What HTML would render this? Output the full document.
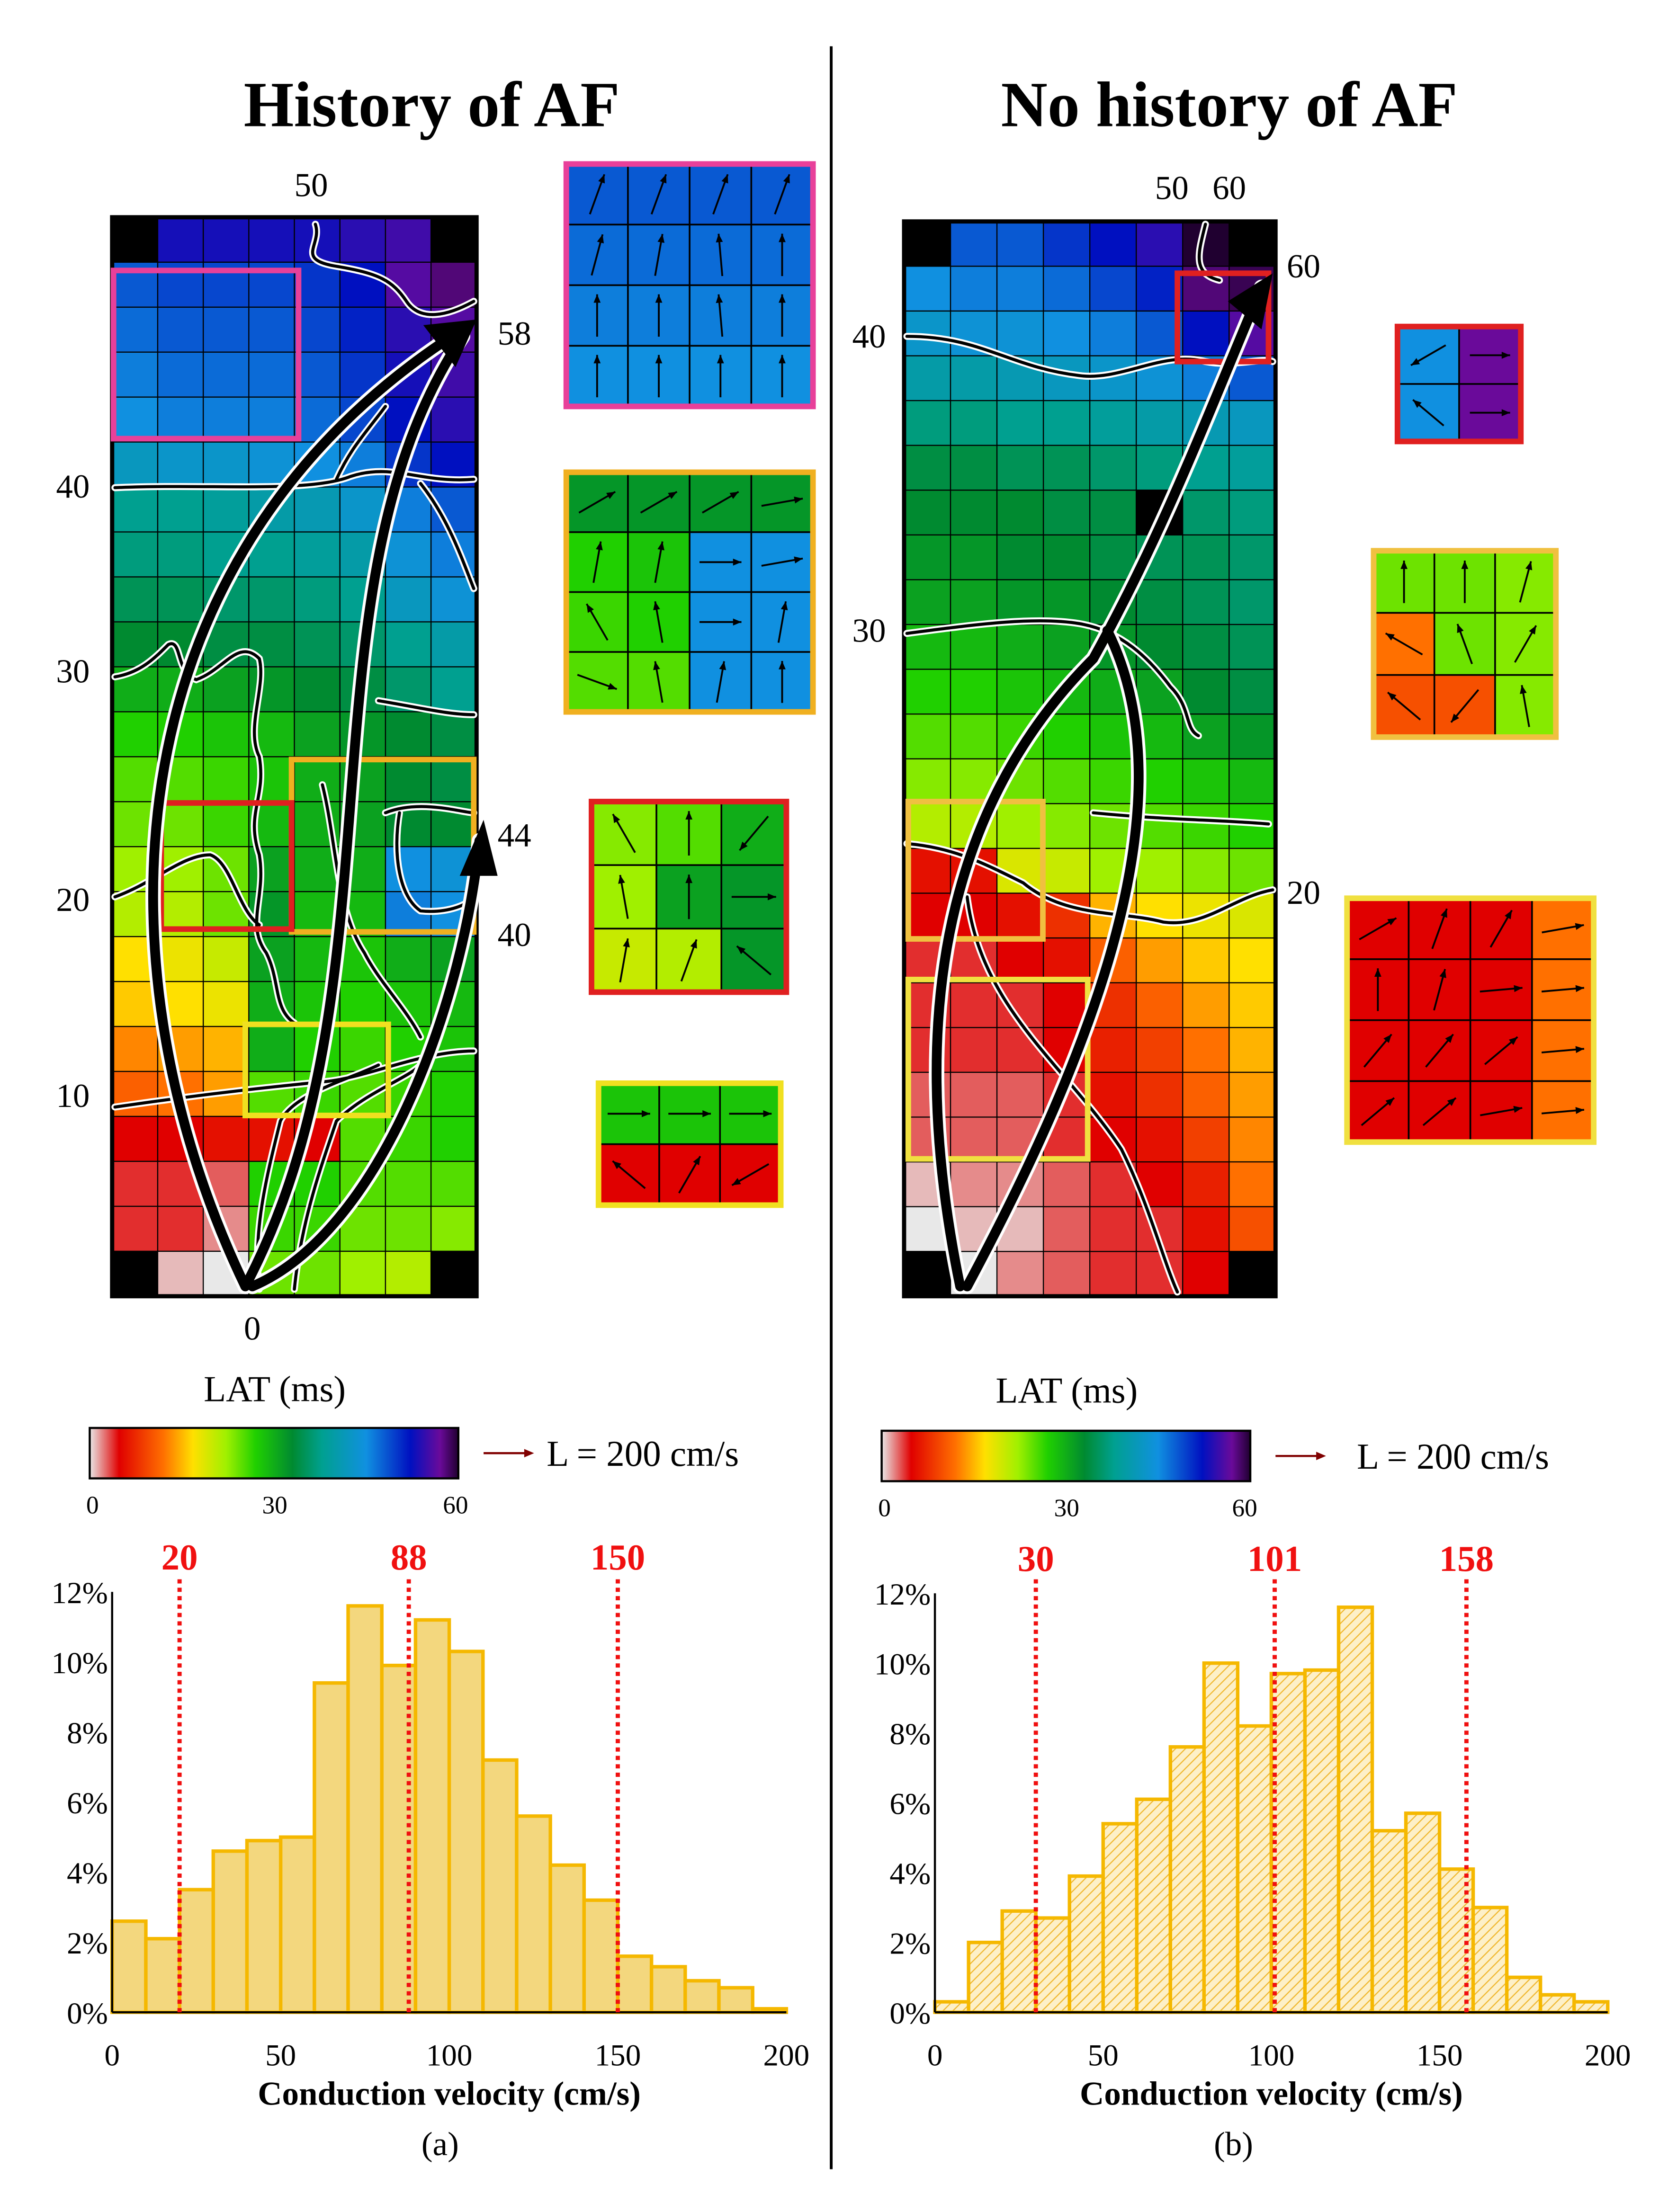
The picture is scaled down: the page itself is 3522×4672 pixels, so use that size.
<!DOCTYPE html>
<html><head><meta charset="utf-8"><style>
html,body{margin:0;padding:0;background:#fff}
svg{display:block}
text{font-family:"Liberation Serif",serif}
</style></head><body>
<svg id="fig" width="3522" height="4672" viewBox="0 0 1190 1578.5" xmlns="http://www.w3.org/2000/svg">
<defs>
<linearGradient id="cbar" x1="0" x2="1" y1="0" y2="0">
<stop offset="0" stop-color="#e8e8e8"/><stop offset="0.08" stop-color="#e00000"/><stop offset="0.2" stop-color="#ff7000"/><stop offset="0.28" stop-color="#ffe000"/><stop offset="0.37" stop-color="#a0f000"/><stop offset="0.45" stop-color="#20d000"/><stop offset="0.55" stop-color="#008a30"/><stop offset="0.63" stop-color="#00a090"/><stop offset="0.75" stop-color="#1090e0"/><stop offset="0.87" stop-color="#0010c0"/><stop offset="0.95" stop-color="#6a0a9a"/><stop offset="1" stop-color="#200030"/>
</linearGradient>
<pattern id="hatch" width="5" height="5" patternUnits="userSpaceOnUse" patternTransform="rotate(45)">
<rect width="5" height="5" fill="#fdf0c8"/><line x1="0" y1="0" x2="0" y2="5" stroke="#f0b830" stroke-width="1.6"/>
</pattern>
</defs>
<line x1="593" y1="33" x2="593" y2="1548" stroke="#000" stroke-width="2"/>
<text x="308" y="90" font-size="46" font-weight="bold" text-anchor="middle">History of AF</text>
<text x="877" y="90" font-size="46" font-weight="bold" text-anchor="middle">No history of AF</text>
<g id="mapL"></g>
<g id="mapR"></g>
<g id="over">
<!-- left contours -->
<g fill="none" stroke-linecap="round">
<path d="M82,348 C150,345 220,352 250,340 C280,330 300,345 338,342 M240,342 C250,320 260,310 275,290 M300,345 C320,370 330,400 338,420 M82,483 C100,480 110,470 120,460 C130,455 125,480 140,485 C160,478 170,455 185,470 C190,490 175,520 185,540 C190,570 175,580 185,610 C190,640 175,660 190,680 C200,700 195,720 210,730 M82,640 C110,630 130,610 150,610 C165,615 170,650 185,660 M82,790 C150,780 200,775 230,772 C260,770 300,750 338,750 M185,920 C180,880 190,840 200,800 C210,780 250,770 270,760 M210,920 C215,870 230,830 240,800 C260,780 290,770 300,760 M275,580 C300,570 330,580 338,580 M285,580 C280,610 285,640 300,650 C320,652 335,645 338,640 M270,500 C300,505 320,510 338,510 M230,560 C240,600 240,650 260,680 C270,700 290,720 300,740" stroke="#fff" stroke-width="5"/>
<path d="M82,348 C150,345 220,352 250,340 C280,330 300,345 338,342 M240,342 C250,320 260,310 275,290 M300,345 C320,370 330,400 338,420 M82,483 C100,480 110,470 120,460 C130,455 125,480 140,485 C160,478 170,455 185,470 C190,490 175,520 185,540 C190,570 175,580 185,610 C190,640 175,660 190,680 C200,700 195,720 210,730 M82,640 C110,630 130,610 150,610 C165,615 170,650 185,660 M82,790 C150,780 200,775 230,772 C260,770 300,750 338,750 M185,920 C180,880 190,840 200,800 C210,780 250,770 270,760 M210,920 C215,870 230,830 240,800 C260,780 290,770 300,760 M275,580 C300,570 330,580 338,580 M285,580 C280,610 285,640 300,650 C320,652 335,645 338,640 M270,500 C300,505 320,510 338,510 M230,560 C240,600 240,650 260,680 C270,700 290,720 300,740" stroke="#000" stroke-width="2.2"/>
<path d="M225,160 C230,175 210,185 240,190 C270,195 280,200 290,215 C300,230 320,225 338,215 M647,240 C700,240 720,262 770,268 C800,272 830,250 860,258 C880,262 900,255 908,258 M647,452 C700,445 740,440 770,445 C800,450 820,470 835,490 C850,505 845,520 855,525 M647,602 C680,605 700,615 730,630 C760,655 800,650 830,658 C860,662 880,640 908,635 M780,580 C830,585 870,585 905,588 M690,640 C700,720 760,760 800,820 C820,860 830,900 840,922 M860,160 C855,180 850,195 870,200" stroke="#fff" stroke-width="5"/>
<path d="M225,160 C230,175 210,185 240,190 C270,195 280,200 290,215 C300,230 320,225 338,215 M647,240 C700,240 720,262 770,268 C800,272 830,250 860,258 C880,262 900,255 908,258 M647,452 C700,445 740,440 770,445 C800,450 820,470 835,490 C850,505 845,520 855,525 M647,602 C680,605 700,615 730,630 C760,655 800,650 830,658 C860,662 880,640 908,635 M780,580 C830,585 870,585 905,588 M690,640 C700,720 760,760 800,820 C820,860 830,900 840,922 M860,160 C855,180 850,195 870,200" stroke="#000" stroke-width="2.2"/>
</g>
<!-- boxes -->
<g fill="none" stroke-width="4">
<rect x="81" y="193" width="132" height="120" stroke="#e8409a"/>
<rect x="208" y="542" width="130" height="123" stroke="#f0b020"/>
<rect x="115" y="573" width="93" height="90" stroke="#e02020"/>
<rect x="175" y="731" width="102" height="65" stroke="#f0e020"/>
<rect x="840" y="195" width="65" height="63" stroke="#e02020"/>
<rect x="648" y="572" width="96" height="98" stroke="#f0c040"/>
<rect x="648" y="699" width="128" height="128" stroke="#f0e040"/>
</g>
<!-- arrows -->
<g fill="none" stroke-linecap="round">
<path d="M175,918 C70,700 70,400 330,235 M175,918 C290,700 210,420 330,240 M180,918 C270,880 330,720 342,600 M685,918 C640,700 690,560 780,470 C830,380 860,300 900,205 M690,918 C780,750 850,570 790,450" stroke="#fff" stroke-width="11"/>
<path d="M175,918 C70,700 70,400 330,235 M175,918 C290,700 210,420 330,240 M180,918 C270,880 330,720 342,600 M685,918 C640,700 690,560 780,470 C830,380 860,300 900,205 M690,918 C780,750 850,570 790,450" stroke="#000" stroke-width="7"/>
<polygon points="340,228 302,232 325,262" fill="#000"/>
<polygon points="345,585 328,625 355,625" fill="#000"/>
<polygon points="908,195 876,215 900,235" fill="#000"/>
</g>
</g>
<g font-size="24">
<text x="222" y="140" text-anchor="middle">50</text>
<text x="355" y="246">58</text>
<text x="355" y="604">44</text>
<text x="355" y="675">40</text>
<text x="180" y="956" text-anchor="middle">0</text>
<text x="64" y="355" text-anchor="end">40</text>
<text x="64" y="487" text-anchor="end">30</text>
<text x="64" y="650" text-anchor="end">20</text>
<text x="64" y="790" text-anchor="end">10</text>
<text x="836" y="142" text-anchor="middle">50</text>
<text x="877" y="142" text-anchor="middle">60</text>
<text x="918" y="198">60</text>
<text x="632" y="248" text-anchor="end">40</text>
<text x="632" y="458" text-anchor="end">30</text>
<text x="918" y="645">20</text>
</g>
<g id="insets"></g>
<!-- colorbars -->
<g>
<text x="196" y="1000" font-size="26" text-anchor="middle">LAT (ms)</text>
<rect x="64" y="1019" width="263" height="36" fill="url(#cbar)" stroke="#000" stroke-width="1.5"/>
<text x="66" y="1080" font-size="18" text-anchor="middle">0</text><text x="196" y="1080" font-size="18" text-anchor="middle">30</text><text x="325" y="1080" font-size="18" text-anchor="middle">60</text>
<line x1="345" y1="1037" x2="378" y2="1037" stroke="#800000" stroke-width="1.5"/><polygon points="381,1037 374,1034 374,1040" fill="#800000"/>
<text x="390" y="1046" font-size="26">L = 200 cm/s</text>
</g>
<g>
<text x="761" y="1001" font-size="26" text-anchor="middle">LAT (ms)</text>
<rect x="629" y="1021" width="263" height="36" fill="url(#cbar)" stroke="#000" stroke-width="1.5"/>
<text x="631" y="1082" font-size="18" text-anchor="middle">0</text><text x="761" y="1082" font-size="18" text-anchor="middle">30</text><text x="888" y="1082" font-size="18" text-anchor="middle">60</text>
<line x1="910" y1="1039" x2="943" y2="1039" stroke="#800000" stroke-width="1.5"/><polygon points="946,1039 939,1036 939,1042" fill="#800000"/>
<text x="968" y="1048" font-size="26">L = 200 cm/s</text>
</g>
<g id="histL"></g>
<g id="histR"></g>
<text x="314" y="1538" font-size="24" text-anchor="middle">(a)</text>
<text x="880" y="1538" font-size="24" text-anchor="middle">(b)</text>
</svg>
<script>
const NS="http://www.w3.org/2000/svg";
function mk(p,tag,a){const e=document.createElementNS(NS,tag);for(const k in a)e.setAttribute(k,a[k]);p.appendChild(e);return e;}
const stops=[[0,[232,232,232]],[5,[224,0,0]],[12,[255,112,0]],[17,[255,224,0]],[22,[160,240,0]],[27,[32,208,0]],[33,[0,138,48]],[38,[0,160,144]],[45,[16,144,224]],[52,[0,16,192]],[57,[106,10,154]],[60,[32,0,48]]];
function col(v){if(v<0)return "#000";for(let i=1;i<stops.length;i++){if(v<=stops[i][0]){const[a,ca]=stops[i-1],[b,cb]=stops[i];const t=(v-a)/(b-a);return "rgb("+ca.map((c,j)=>Math.round(c+(cb[j]-c)*t)).join(",")+")";}}return "#200030";}
const K=-1;
const latLeft=[[K,53,53,53,53,54,55,K],[48,49,49,49,50,52,56,58],[47,48,48,48,49,51,54,56],[46,47,47,47,48,50,53,55],[45,46,46,46,47,49,52,54],[42,43,43,44,45,46,50,52],[38,38,39,40,41,43,46,48],[37,37,38,38,39,40,44,46],[35,35,36,36,37,38,42,44],[33,33,34,34,35,36,38,40],[30,30,31,32,33,34,36,38],[27,27,28,29,31,32,33,34],[25,25,26,28,30,31,33,34],[24,24,26,29,30,31,33,33],[22,22,24,31,30,30,45,44],[21,21,24,32,29,29,46,45],[17,18,20,31,29,28,30,31],[16,17,18,30,28,27,28,29],[13,14,15,30,27,26,27,28],[11,12,14,25,26,25,26,27],[5,5,6,6,5,25,26,27],[4,4,3,27,27,25,25,25],[4,4,2,26,26,24,24,23],[K,1,0,24,24,22,21,K]];
const latRight=[[K,48,48,50,52,54,60,K],[45,46,46,47,49,51,58,59],[43,44,44,45,46,48,52,56],[40,40,41,42,43,44,46,48],[37,37,38,38,39,40,41,42],[34,34,35,35,36,37,38,39],[33,33,33,34,34,K,36,37],[32,32,33,33,34,35,35,36],[31,31,32,32,33,34,35,36],[29,29,30,31,32,33,34,35],[27,27,28,29,30,31,33,34],[25,25,26,27,28,29,31,32],[23,23,24,25,26,27,28,29],[21,21,22,23,24,25,26,27],[6,6,19,20,22,22,23,24],[5,5,6,8,15,17,18,19],[4,4,5,6,11,14,16,17],[4,4,4,5,8,11,14,16],[4,4,4,5,7,9,12,15],[3,3,3,4,6,8,11,14],[3,3,3,4,5,6,9,13],[1,2,2,3,4,5,7,12],[0,1,1,3,4,4,6,10],[K,0,2,3,4,4,5,K]];
function drawMap(g,m,x0,y0,w,h){const rows=m.length,cols=m[0].length,cw=w/cols,ch=h/rows;
m.forEach((r,i)=>r.forEach((v,j)=>{const c=mk(g,"rect",{x:x0+j*cw,y:y0+i*ch,width:cw+0.3,height:ch+0.3,fill:col(v),stroke:"#000","stroke-width":0.8});

}));
mk(g,"rect",{x:x0,y:y0,width:w,height:h,fill:"none",stroke:"#000","stroke-width":3});}
drawMap(document.getElementById("mapL"),latLeft,80,155,260,770);
drawMap(document.getElementById("mapR"),latRight,645,158,265,767);
// insets
const insetDefs=[
[404,117,176,173,"#e8409a",[[48,48,48,48],[47,47,47,47],[46,46,46,46],[45,45,45,45]],[[70,70,70,70],[75,80,95,90],[90,90,95,90],[90,90,90,90]]],
[404,337,176,171,"#f0b020",[[32,32,32,32],[27,28,45,45],[26,27,45,45],[25,25,45,45]],[[30,30,30,10],[80,80,0,10],[120,100,0,80],[340,100,80,90]]],
[422,572,139,136,"#e02020",[[23,25,30],[22,31,32],[20,21,32]],[[120,90,230],[100,90,0],[80,70,140]]],
[427,773,130,87,"#f0e020",[[28,28,28],[5,5,5]],[[0,0,0],[140,60,210]]],
[997,233,88,82,"#e02020",[[45,57],[45,57]],[[210,0],[140,0]]],
[980,393,130,133,"#f0c040",[[24,24,23],[12,24,23],[10,10,23]],[[90,90,75],[150,110,60],[140,230,100]]],
[961,641,176,174,"#f0e040",[[5,5,5,12],[5,5,5,12],[5,5,5,12],[5,5,5,12]],[[30,70,60,10],[90,75,5,5],[50,50,40,5],[40,40,10,5]]]];
const ins=document.getElementById("insets");
insetDefs.forEach(d=>{const[x,y,w,h,bc,lat,ang]=d;const g=mk(ins,"g",{});


const rows=lat.length,cols=lat[0].length,cw=w/cols,ch=h/rows;
lat.forEach((r,i)=>r.forEach((v,j)=>{mk(g,"rect",{x:x+j*cw,y:y+i*ch,width:cw,height:ch,fill:col(v),stroke:"#000","stroke-width":1.2});
const a=ang[i][j]*Math.PI/180,L=Math.min(cw,ch)*0.35,cx=x+j*cw+cw/2,cy=y+i*ch+ch/2;
const ex=cx+L*Math.cos(a),ey=cy-L*Math.sin(a),sx=cx-L*Math.cos(a),sy=cy+L*Math.sin(a);
mk(g,"line",{x1:sx,y1:sy,x2:ex,y2:ey,stroke:"#000","stroke-width":1.3});
const hx=ex-6*Math.cos(a),hy=ey+6*Math.sin(a),px=2.5*Math.sin(a),py=2.5*Math.cos(a);
mk(g,"polygon",{points:`${ex},${ey} ${hx+px},${hy+py} ${hx-px},${hy-py}`,fill:"#000"});}));
mk(g,"rect",{x:x,y:y,width:w,height:h,fill:"none",stroke:bc,"stroke-width":4});});
// histograms
const binStarts=[0,10,20,30,40,50,60,70,80,90,100,110,120,130,140,150,160,170,180,190];
const pctLeft=[2.6,2.1,3.5,4.6,4.9,5.0,9.4,11.6,9.9,11.2,10.3,7.2,5.6,4.2,3.2,1.6,1.3,0.9,0.7,0.1];
const pctRight=[0.3,2.0,2.9,2.7,3.9,5.4,6.1,7.6,10.0,8.2,9.7,9.8,11.6,5.2,5.7,4.1,3.0,1.0,0.5,0.3];
const markersLeft=[20,88,150];
const markersRight=[30,101,158];
const yTicks=[0,2,4,6,8,10,12];
const xTicks=[0,50,100,150,200];
function hist(g,x0,x1,y0,y1,vals,marks,fill){
const X=v=>x0+(x1-x0)*v/200,Y=v=>y0-(y0-y1)*v/12;
yTicks.forEach(t=>{const tx=mk(g,"text",{x:x0-3,y:Y(t)+8,"font-size":22,"text-anchor":"end"});tx.textContent=t+"%";

});
xTicks.forEach(t=>{const tx=mk(g,"text",{x:X(t),y:y0+38,"font-size":22,"text-anchor":"middle"});tx.textContent=t;

});
vals.forEach((v,i)=>{const r=mk(g,"rect",{x:X(binStarts[i]),y:Y(v),width:X(10)-X(0),height:Y(0)-Y(v),fill:fill,stroke:"#f5b800","stroke-width":2.5});

});
mk(g,"line",{x1:x0,y1:y0,x2:x1,y2:y0,stroke:"#000","stroke-width":1.5});
mk(g,"line",{x1:x0,y1:y0,x2:x0,y2:y1,stroke:"#000","stroke-width":1.5});
marks.forEach(m=>{const l=mk(g,"line",{x1:X(m),y1:y0,x2:X(m),y2:y1-10,stroke:"#f01010","stroke-width":3,"stroke-dasharray":"3,3"});


const t=mk(g,"text",{x:X(m),y:y1-16,"font-size":26,"font-weight":"bold",fill:"#f01010","text-anchor":"middle"});t.textContent=m;

});
const xl=mk(g,"text",{x:(x0+x1)/2,y:y0+66,"font-size":24,"font-weight":"bold","text-anchor":"middle"});xl.textContent="Conduction velocity (cm/s)";

}
hist(document.getElementById("histL"),80,561,1436,1136,pctLeft,markersLeft,"#f3d77e");
hist(document.getElementById("histR"),667,1147,1436,1137,pctRight,markersRight,"url(#hatch)");
</script>
</body></html>
